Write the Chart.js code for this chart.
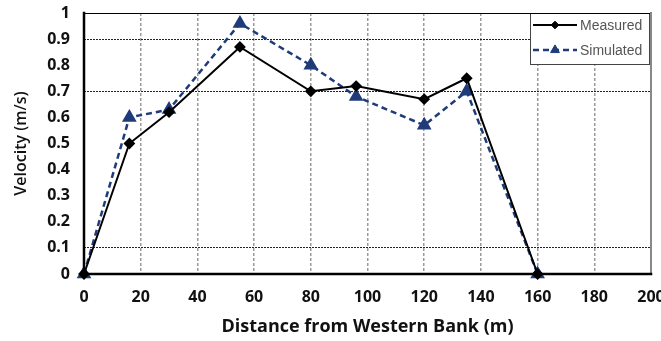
<!DOCTYPE html>
<html>
<head>
<meta charset="utf-8">
<script src="https://cdn.jsdelivr.net/npm/chart.js@4/dist/chart.umd.min.js"></script>
<style>
  html, body { margin: 0; padding: 0; background: #fff; }
  #wrap { width: 661px; height: 341px; }
</style>
</head>
<body>
<div id="wrap"><canvas id="c" width="661" height="341"></canvas></div>
<script>
// Cross-section velocity profile: distance from western bank (m) vs velocity (m/s)
const measuredX = [0, 16, 30, 55, 80, 96, 120, 135, 160];
const measuredV = [0, 0.50, 0.62, 0.87, 0.70, 0.72, 0.67, 0.75, 0];
const simulatedX = [0, 16, 30, 55, 80, 96, 120, 135, 160];
const simulatedV = [0, 0.60, 0.63, 0.96, 0.80, 0.68, 0.57, 0.70, 0];
const seriesNames = ['Measured', 'Simulated'];
const xTicks = [0, 20, 40, 60, 80, 100, 120, 140, 160, 180, 200];
const yTicks = [0, 0.1, 0.2, 0.3, 0.4, 0.5, 0.6, 0.7, 0.8, 0.9, 1];
const yGridShown = [0.1, 0.7, 0.9];

const toPoints = (xs, ys) => xs.map((x, i) => ({ x: x, y: ys[i] }));

const NAVY = '#1F3B7A';

// Chart frame: heavy left/bottom axis, thin top, grey right edge
const framePlugin = {
  id: 'frame',
  afterDraw(chart) {
    const { ctx, chartArea: a } = chart;
    ctx.save();
    ctx.lineCap = 'square';
    ctx.strokeStyle = '#000';
    ctx.lineWidth = 1;
    ctx.beginPath(); ctx.moveTo(a.left, a.top + 0.5); ctx.lineTo(a.right, a.top + 0.5); ctx.stroke();
    ctx.strokeStyle = '#888';
    ctx.lineWidth = 2;
    ctx.beginPath(); ctx.moveTo(a.right, a.top); ctx.lineTo(a.right, a.bottom); ctx.stroke();
    ctx.strokeStyle = '#000';
    ctx.lineWidth = 2.5;
    ctx.beginPath(); ctx.moveTo(a.left, a.top); ctx.lineTo(a.left, a.bottom); ctx.lineTo(a.right, a.bottom); ctx.stroke();
    ctx.restore();
  }
};

// Boxed legend in the top-right corner of the plot area
const legendBoxPlugin = {
  id: 'legendBox',
  afterDatasetsDraw(chart) {
    const { ctx, chartArea: a } = chart;
    const w = 120, h = 52;
    const x0 = a.right - w - 1, y0 = a.top;
    ctx.save();
    ctx.fillStyle = '#fff';
    ctx.fillRect(x0, y0, w, h);
    ctx.strokeStyle = '#444';
    ctx.lineWidth = 1;
    ctx.strokeRect(x0 + 0.5, y0 + 0.5, w - 1, h - 1);
    chart.data.datasets.forEach((ds, i) => {
      const cy = y0 + 12 + i * 25;
      ctx.save();
      ctx.strokeStyle = ds.borderColor;
      ctx.lineWidth = ds.borderWidth;
      ctx.setLineDash(ds.borderDash || []);
      ctx.beginPath(); ctx.moveTo(x0 + 3, cy); ctx.lineTo(x0 + 47, cy); ctx.stroke();
      ctx.setLineDash([]);
      ctx.fillStyle = ds.pointBackgroundColor;
      ctx.strokeStyle = ds.pointBorderColor;
      ctx.lineWidth = 1;
      Chart.helpers.drawPoint(ctx, { pointStyle: ds.pointStyle, radius: ds.pointRadius * 0.85, borderWidth: 1, rotation: 0 }, x0 + 25, cy);
      ctx.restore();
      ctx.fillStyle = '#555';
      ctx.font = '14px "Liberation Sans Narrow", "Liberation Sans", sans-serif';
      ctx.textBaseline = 'middle';
      ctx.textAlign = 'left';
      ctx.fillText(ds.label, x0 + 50, cy + 1);
    });
    ctx.restore();
  }
};

new Chart(document.getElementById('c'), {
  type: 'line',
  data: {
    datasets: [
      {
        label: seriesNames[0],
        data: toPoints(measuredX, measuredV),
        borderColor: '#000',
        backgroundColor: '#000',
        pointBackgroundColor: '#000',
        pointBorderColor: '#000',
        borderWidth: 2,
        pointStyle: 'rectRot',
        pointRadius: 4.5,
        tension: 0,
        clip: false
      },
      {
        label: seriesNames[1],
        data: toPoints(simulatedX, simulatedV),
        borderColor: NAVY,
        backgroundColor: NAVY,
        pointBackgroundColor: NAVY,
        pointBorderColor: NAVY,
        borderWidth: 2.5,
        borderDash: [6, 4],
        pointStyle: 'triangle',
        pointRadius: 6,
        tension: 0,
        clip: false
      }
    ]
  },
  options: {
    responsive: false,
    animation: false,
    events: [],
    layout: { padding: { left: 0, top: 13, right: 10, bottom: 0 } },
    plugins: { legend: { display: false }, tooltip: { enabled: false } },
    scales: {
      x: {
        type: 'linear',
        min: 0,
        max: 200,
        afterBuildTicks(scale) { scale.ticks = xTicks.map(v => ({ value: v })); },
        afterFit(scale) { scale.height = 67; scale.paddingLeft = 0; scale.paddingRight = 0; },
        ticks: {
          autoSkip: false,
          maxRotation: 0,
          padding: 14,
          color: '#111',
          font: { family: '"Open Sans", sans-serif', size: 16, weight: 'bold' },
          callback: v => String(v)
        },
        grid: {
          drawTicks: false,
          color: ctx => (ctx.tick && ctx.tick.value > 0 && ctx.tick.value < 200) ? '#9a9a9a' : 'rgba(0,0,0,0)',
          lineWidth: 1.5
        },
        border: { display: false, dash: [3, 2] },
        title: {
          display: true,
          text: 'Distance from Western Bank (m)',
          color: '#111',
          font: { family: '"Open Sans", sans-serif', size: 18, weight: 'bold' },
          padding: { top: 0, bottom: 3 }
        }
      },
      y: {
        min: 0,
        max: 1,
        afterBuildTicks(scale) { scale.ticks = yTicks.map(v => ({ value: v })); },
        afterFit(scale) { scale.width = 84; scale.paddingTop = 0; scale.paddingBottom = 0; },
        ticks: {
          padding: 14,
          color: '#111',
          font: { family: '"Open Sans", sans-serif', size: 16, weight: 'bold' },
          callback: v => String(Math.round(v * 10) / 10)
        },
        grid: {
          drawTicks: false,
          color: ctx => (ctx.tick && yGridShown.some(g => Math.abs(g - ctx.tick.value) < 1e-6)) ? '#222' : 'rgba(0,0,0,0)',
          lineWidth: 1
        },
        border: { display: false, dash: [2, 1] },
        title: {
          display: true,
          text: 'Velocity (m/s)',
          color: '#111',
          font: { family: '"Open Sans", sans-serif', size: 16, weight: '600' },
          padding: { top: 12, bottom: 0 }
        }
      }
    }
  },
  plugins: [framePlugin, legendBoxPlugin]
});
</script>
</body>
</html>
